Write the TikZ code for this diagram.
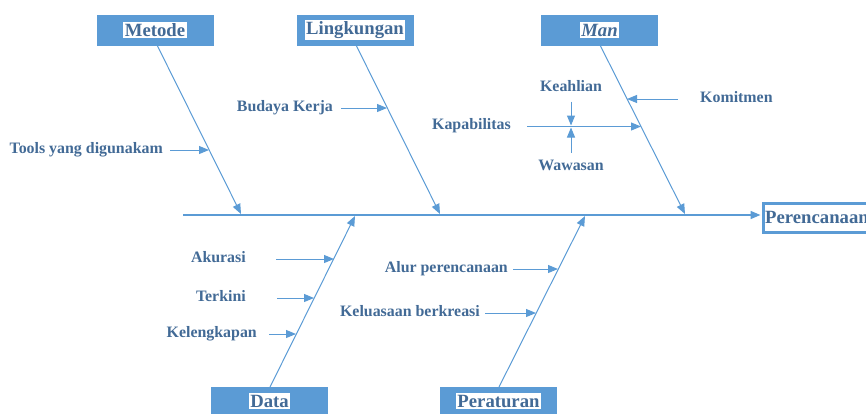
\documentclass[tikz,border=0pt]{standalone}
\usepackage{fontspec}
\setmainfont{Liberation Serif}
\usetikzlibrary{arrows.meta}
\definecolor{boxblue}{RGB}{91,155,213}
\definecolor{txtblue}{RGB}{66,106,150}
\tikzset{
  catbox/.style={draw=boxblue,fill=boxblue,minimum width=116pt,minimum height=30pt,inner sep=0pt},
  catlabel/.style={fill=white,text=txtblue,inner sep=1.5pt,font=\fontsize{18.7}{22}\selectfont\bfseries},
  sublabel/.style={text=txtblue,inner sep=0pt,text height=0.662em,text depth=0pt,font=\fontsize{15.9}{18}\selectfont\bfseries},
  bone/.style={draw=boxblue,line width=1pt,-{Triangle[length=10pt,width=8pt]}},
  spine/.style={draw=boxblue,line width=1.6pt,-{Triangle[length=10pt,width=8pt]}},
  twig/.style={draw=boxblue,line width=1pt,-{Triangle[length=10pt,width=8pt]}},
  effectbox/.style={draw=boxblue,line width=3pt,fill=white,minimum height=29pt,inner sep=0pt}
}
\begin{document}
\begin{tikzpicture}[x=1pt,y=-1pt]
\path[use as bounding box] (0,0) rectangle (866,413);
\clip (0,0) rectangle (866,413);

% category boxes
\node[catbox] (metodebox) at (155,30) {};
\node[catlabel] (metode) at (155,30) {Metode};
\node[catbox] (lingbox) at (355,30) {};
\node[catlabel] (ling) at (355,30) {Lingkungan};
\node[catbox] (manbox) at (599.5,30) {};
\node[catlabel] (man) at (599.5,30) {\itshape Man};
\node[catbox] (databox) at (269.5,402) {};
\node[catlabel] (data) at (269.5,401) {Data};
\node[catbox] (peratbox) at (498.5,402) {};
\node[catlabel] (perat) at (498.5,401) {Peraturan};

% effect box
\node[effectbox,anchor=west,minimum width=140pt] (effbox) at (762,217.5) {};
\node[text=txtblue,inner sep=0pt,anchor=west,font=\fontsize{18.7}{22}\selectfont\bfseries] (eff) at (765,217.5) {Perencanaan};

% spine
\coordinate (spinestart) at (183,215);
\coordinate (spineend) at (760.5,215);
\draw[spine] (spinestart) -- (spineend);

% bone coordinates
\coordinate (m0) at (157,45);  \coordinate (m1) at (241,214);
\coordinate (l0) at (356,45);  \coordinate (l1) at (440,214);
\coordinate (n0) at (600,45);  \coordinate (n1) at (685,214);
\coordinate (d0) at (270,387); \coordinate (d1) at (355,216);
\coordinate (p0) at (499,387); \coordinate (p1) at (585,216);
\draw[bone] (m0) -- (m1);
\draw[bone] (l0) -- (l1);
\draw[bone] (n0) -- (n1);
\draw[bone] (d0) -- (d1);
\draw[bone] (p0) -- (p1);

% sub causes
\node[sublabel,anchor=east] (tools) at (163,150) {Tools yang digunakam};
\coordinate (toolsend) at (209,150);
\draw[twig] ([xshift=7pt]tools.east) -- (toolsend);

\node[sublabel,anchor=east] (budaya) at (333,108) {Budaya Kerja};
\coordinate (budayaend) at (387,108);
\draw[twig] ([xshift=8pt]budaya.east) -- (budayaend);

\node[sublabel,anchor=west] (komit) at (700,99) {Komitmen};
\coordinate (komitend) at (627,99);
\draw[twig] ([xshift=-22pt]komit.west) -- (komitend);

\node[sublabel,anchor=east] (kapab) at (511,126.5) {Kapabilitas};
\coordinate (kapabend) at (641,126.5);
\draw[twig] ([xshift=16pt]kapab.east) -- (kapabend);

\node[sublabel] (keahlian) at (571,88) {Keahlian};
\coordinate (keahlianstart) at (571,101.5);
\coordinate (keahlianend) at (571,125.5);
\draw[twig] (keahlianstart) -- (keahlianend);

\node[sublabel] (wawasan) at (571,167.5) {Wawasan};
\coordinate (wawasanstart) at (571,152.5);
\coordinate (wawasanend) at (571,127.5);
\draw[twig] (wawasanstart) -- (wawasanend);

\node[sublabel,anchor=east] (akurasi) at (246,259) {Akurasi};
\coordinate (akurasiend) at (334,259);
\draw[twig] ([xshift=30pt]akurasi.east) -- (akurasiend);

\node[sublabel,anchor=east] (terkini) at (246,298) {Terkini};
\coordinate (terkiniend) at (314,298);
\draw[twig] ([xshift=31pt]terkini.east) -- (terkiniend);

\node[sublabel,anchor=east] (lengkap) at (257,334) {Kelengkapan};
\coordinate (lengkapend) at (296,334);
\draw[twig] ([xshift=12pt]lengkap.east) -- (lengkapend);

\node[sublabel,anchor=east] (alur) at (508,269) {Alur perencanaan};
\coordinate (alurend) at (558,269);
\draw[twig] ([xshift=5pt]alur.east) -- (alurend);

\node[sublabel,anchor=east] (luas) at (480,313) {Keluasaan berkreasi};
\coordinate (luasend) at (536,313);
\draw[twig] ([xshift=5pt]luas.east) -- (luasend);
\end{tikzpicture}
\end{document}
